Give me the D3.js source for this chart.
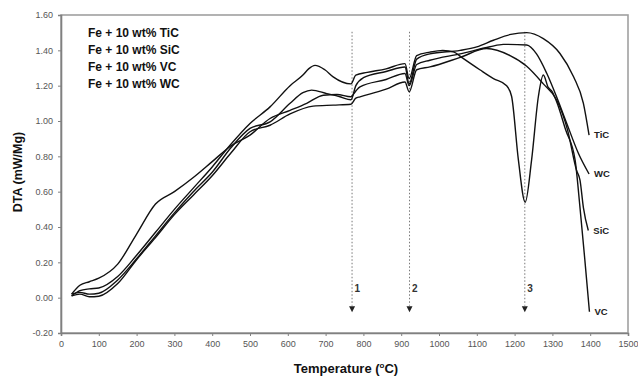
<!DOCTYPE html>
<html>
<head>
<meta charset="utf-8">
<script src="https://cdn.jsdelivr.net/npm/d3@7"></script>
<style>
  body { margin: 0; background: #fff; }
  text { font-family: Arial, "Liberation Sans", sans-serif; }
</style>
</head>
<body>
<div id="chart"></div>
<script>
// DTA curves, Fe + 10 wt% carbide, temperatures in degC
var ticT   = [28, 50, 75, 100, 150, 200, 250, 300, 350, 400, 450, 500, 553, 606, 640, 663, 703, 738, 767, 780, 800, 860, 910, 921, 941, 976, 1056, 1100, 1144, 1190, 1232, 1276, 1320, 1356, 1382, 1397];
var ticDTA = [0.02, 0.03, 0.02, 0.025, 0.10, 0.22, 0.35, 0.48, 0.60, 0.71, 0.85, 0.958, 0.995, 1.10, 1.16, 1.175, 1.155, 1.137, 1.12, 1.20, 1.245, 1.28, 1.306, 1.21, 1.35, 1.38, 1.40, 1.42, 1.457, 1.49, 1.50, 1.466, 1.382, 1.25, 1.10, 0.92];

var wcT   = [28, 50, 75, 100, 150, 200, 250, 300, 350, 400, 450, 500, 553, 606, 650, 694, 730, 767, 780, 791, 860, 910, 921, 941, 976, 1056, 1135, 1170, 1232, 1258, 1285, 1311, 1338, 1369, 1397];
var wcDTA = [0.02, 0.07, 0.09, 0.11, 0.19, 0.36, 0.53, 0.60, 0.68, 0.77, 0.86, 0.92, 1.014, 1.06, 1.10, 1.146, 1.15, 1.137, 1.17, 1.193, 1.235, 1.269, 1.20, 1.32, 1.344, 1.38, 1.42, 1.434, 1.43, 1.38, 1.27, 1.137, 0.986, 0.816, 0.70];

var sicT   = [28, 50, 75, 100, 150, 200, 250, 300, 350, 400, 450, 500, 553, 606, 667, 720, 767, 780, 791, 860, 910, 921, 941, 976, 1056, 1126, 1188, 1232, 1276, 1311, 1340, 1364, 1373, 1382, 1395];
var sicDTA = [0.01, 0.02, 0.005, 0.008, 0.08, 0.215, 0.34, 0.47, 0.58, 0.69, 0.82, 0.939, 0.976, 1.04, 1.084, 1.09, 1.095, 1.13, 1.137, 1.18, 1.221, 1.165, 1.29, 1.306, 1.36, 1.41, 1.37, 1.31, 1.21, 1.12, 0.95, 0.72, 0.665, 0.51, 0.38];

var vcT   = [28, 50, 75, 100, 150, 200, 250, 300, 350, 400, 450, 500, 553, 606, 640, 655, 672, 698, 720, 767, 780, 810, 860, 910, 921, 941, 976, 1010, 1040, 1060, 1108, 1144, 1179, 1192, 1210, 1228, 1245, 1263, 1276, 1289, 1298, 1311, 1335, 1360, 1373, 1386, 1398];
var vcDTA = [0.01, 0.04, 0.05, 0.055, 0.12, 0.24, 0.37, 0.50, 0.62, 0.74, 0.87, 0.986, 1.08, 1.20, 1.26, 1.295, 1.315, 1.29, 1.25, 1.21, 1.26, 1.275, 1.295, 1.325, 1.24, 1.37, 1.39, 1.40, 1.39, 1.36, 1.29, 1.24, 1.20, 1.14, 0.78, 0.54, 0.78, 1.14, 1.26, 1.19, 1.17, 1.11, 0.95, 0.78, 0.51, 0.21, -0.08];

var seriesNames = ["TiC", "WC", "SiC", "VC"];
var legendLabels = ["Fe + 10 wt% TiC", "Fe + 10 wt% SiC", "Fe + 10 wt% VC", "Fe + 10 wt% WC"];

// reaction markers
var eventT = [770, 922, 1227];
var eventLabels = ["1", "2", "3"];

var xTicks = d3.range(0, 1501, 100);
var yTicks = [-0.2, 0, 0.2, 0.4, 0.6, 0.8, 1.0, 1.2, 1.4, 1.6];

var series = [
  {name: "TiC", t: ticT, v: ticDTA},
  {name: "WC", t: wcT, v: wcDTA},
  {name: "SiC", t: sicT, v: sicDTA},
  {name: "VC", t: vcT, v: vcDTA}
];

var margin = {top: 15, right: 10, bottom: 45, left: 61},
    width = 638 - margin.left - margin.right,
    height = 378 - margin.top - margin.bottom;

var x = d3.scaleLinear().domain([0, 1500]).range([0, width]);
var y = d3.scaleLinear().domain([-0.2, 1.6]).range([height, 0]);

var svg = d3.select("#chart").append("svg")
    .attr("width", 638)
    .attr("height", 378)
  .append("g")
    .attr("transform", "translate(" + margin.left + "," + margin.top + ")");

// frame
svg.append("rect")
    .attr("x", 0).attr("y", 0)
    .attr("width", width).attr("height", height)
    .attr("fill", "none")
    .attr("stroke", "#a0a0a0")
    .attr("stroke-width", 1.6);

// axes
var xAxis = svg.append("g")
    .attr("transform", "translate(0," + height + ")")
    .call(d3.axisBottom(x).tickValues(xTicks).tickSize(3).tickPadding(5).tickFormat(d3.format("d")));
var yAxis = svg.append("g")
    .call(d3.axisLeft(y).tickValues(yTicks).tickSize(3).tickPadding(5)
      .tickFormat(function(d) { return d3.format(".2f")(d).replace("\u2212", "-"); }));

[xAxis, yAxis].forEach(function(a) {
  a.select(".domain").attr("stroke", "#808080").attr("stroke-width", 1.6);
  a.selectAll(".tick line").attr("stroke", "#808080");
  a.selectAll(".tick text").attr("fill", "#555").attr("font-size", 9).attr("font-family", "Arial, 'Liberation Sans', sans-serif");
});

// axis titles
var xTitle = svg.append("text")
    .attr("x", 285)
    .attr("y", height + 40)
    .attr("text-anchor", "middle")
    .attr("font-size", 13)
    .attr("font-weight", "bold")
    .attr("fill", "#111");
xTitle.append("tspan").text("Temperature (");
xTitle.append("tspan").attr("dy", -5).attr("font-size", 8).text("o");
xTitle.append("tspan").attr("dy", 5).text("C)");

svg.append("text")
    .attr("transform", "rotate(-90)")
    .attr("x", -157)
    .attr("y", -39)
    .attr("text-anchor", "middle")
    .attr("font-size", 12.5)
    .attr("font-weight", "bold")
    .attr("fill", "#111")
    .text("DTA (mW/Mg)");

// reaction markers: dotted lines with arrows
svg.selectAll(".event")
    .data(eventT)
    .enter().append("line")
    .attr("class", "event")
    .attr("x1", function(d) { return x(d); })
    .attr("x2", function(d) { return x(d); })
    .attr("y1", y(1.505))
    .attr("y2", y(-0.045))
    .attr("stroke", "#777")
    .attr("stroke-width", 1)
    .attr("stroke-dasharray", "1.5,2");

svg.selectAll(".arrow")
    .data(eventT)
    .enter().append("path")
    .attr("class", "arrow")
    .attr("d", function(d) {
      var tx = x(d), ty = y(-0.082);
      return "M" + (tx - 3) + "," + (ty - 6) + "L" + (tx + 3) + "," + (ty - 6) + "L" + tx + "," + ty + "Z";
    })
    .attr("fill", "#222");

svg.selectAll(".eventLabel")
    .data(eventT)
    .enter().append("text")
    .attr("class", "eventLabel")
    .attr("x", function(d) { return x(d) + 2.5; })
    .attr("y", y(0.03))
    .attr("font-size", 10)
    .attr("font-weight", "bold")
    .attr("fill", "#333")
    .text(function(d, i) { return eventLabels[i]; });

// curves
var line = d3.line()
    .x(function(d) { return x(d[0]); })
    .y(function(d) { return y(d[1]); })
    .curve(d3.curveMonotoneX);

svg.selectAll(".curve")
    .data(series)
    .enter().append("path")
    .attr("class", "curve")
    .attr("d", function(s) { return line(d3.zip(s.t, s.v)); })
    .attr("fill", "none")
    .attr("stroke", "#111")
    .attr("stroke-width", 1.4);

// curve end labels
svg.selectAll(".endLabel")
    .data(series)
    .enter().append("text")
    .attr("class", "endLabel")
    .attr("x", function(s) { return x(s.t[s.t.length - 1]) + 5; })
    .attr("y", function(s) { return y(s.v[s.v.length - 1]); })
    .attr("dy", "0.35em")
    .attr("font-size", 9.5)
    .attr("font-weight", "bold")
    .attr("fill", "#222")
    .text(function(s) { return s.name; });

// legend text
svg.selectAll(".legend")
    .data(legendLabels)
    .enter().append("text")
    .attr("class", "legend")
    .attr("x", 27)
    .attr("y", function(d, i) { return 22 + i * 17; })
    .attr("font-size", 12)
    .attr("font-weight", "bold")
    .attr("fill", "#111")
    .text(function(d) { return d; });
</script>
</body>
</html>
